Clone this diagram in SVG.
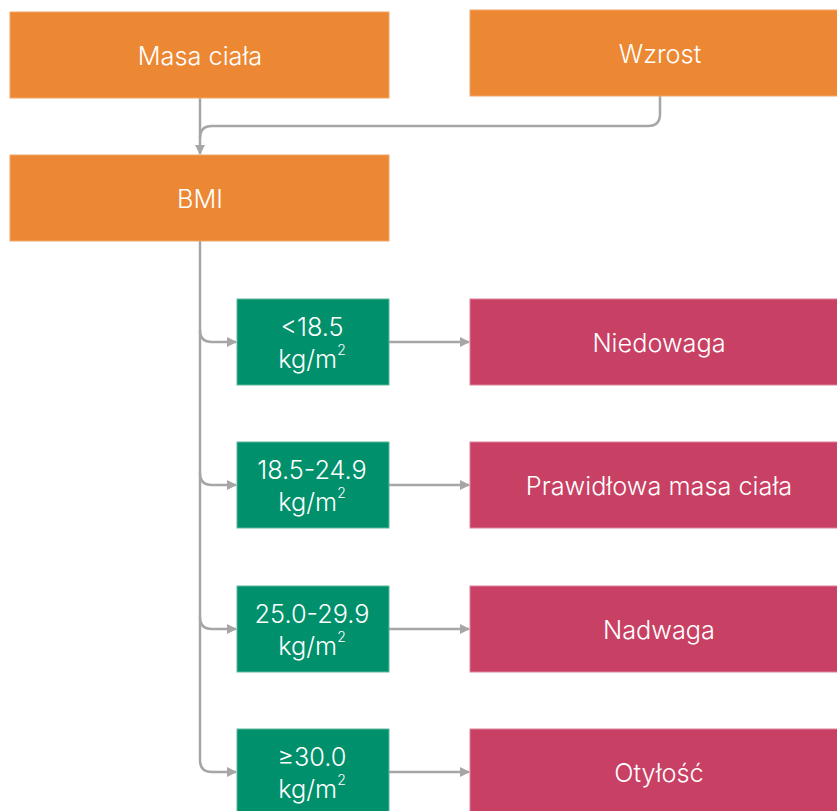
<svg xmlns="http://www.w3.org/2000/svg" width="837" height="811" viewBox="0 0 837 811">
<style>
.o{fill:#EC8733;stroke:#F2A66A;stroke-width:1}
.g{fill:#00906B;stroke:#5FB89C;stroke-width:1}
.p{fill:#C84064;stroke:#DD8299;stroke-width:1}
text{font-family:Inter,"Noto Sans","Liberation Sans",sans-serif;fill:#FFFFFF;font-size:25.3px;font-weight:300;text-anchor:middle;dominant-baseline:central}
.e{fill:none;stroke:#A6A6A6;stroke-width:2.5}
</style>
<defs>
<marker id="ah" viewBox="0 0 10 10" refX="9" refY="5" markerWidth="4" markerHeight="4" orient="auto" markerUnits="strokeWidth">
<path d="M0,0 L10,5 L0,10 z" fill="#A6A6A6"/>
</marker>
</defs>
<rect width="837" height="811" fill="#FFFFFF"/>
<g id="edges">
<path class="e" d="M200,98 L200,154" marker-end="url(#ah)"/>
<path class="e" d="M660,96 L660,114 Q660,126 648,126 L212,126 Q200,126 200,138"/>
<path class="e" d="M200,241 L200,760 Q200,772 212,772 L236,772" marker-end="url(#ah)"/>
<path class="e" d="M200,330 Q200,342 212,342 L236,342" marker-end="url(#ah)"/>
<path class="e" d="M200,473 Q200,485 212,485 L236,485" marker-end="url(#ah)"/>
<path class="e" d="M200,617 Q200,629 212,629 L236,629" marker-end="url(#ah)"/>
<path class="e" d="M389,342 L469,342" marker-end="url(#ah)"/>
<path class="e" d="M389,485 L469,485" marker-end="url(#ah)"/>
<path class="e" d="M389,629 L469,629" marker-end="url(#ah)"/>
<path class="e" d="M389,772 L469,772" marker-end="url(#ah)"/>
</g>
<g id="masa"><rect class="o" x="10" y="12" width="379" height="86"/><text x="200" y="55">Masa ciała</text></g>
<g id="wzrost"><rect class="o" x="470" y="10" width="380" height="86"/><text x="660" y="53">Wzrost</text></g>
<g id="bmi"><rect class="o" x="10" y="155" width="379" height="86"/><text x="200" y="198">BMI</text></g>
<g id="r1"><rect class="g" x="237" y="299" width="152" height="86"/><text x="312" y="326">&lt;18.5</text><text x="312" y="358">kg/m<tspan font-size="14" dy="-9">2</tspan></text></g>
<g id="r2"><rect class="g" x="237" y="442" width="152" height="86"/><text x="312" y="469">18.5-24.9</text><text x="312" y="501">kg/m<tspan font-size="14" dy="-9">2</tspan></text></g>
<g id="r3"><rect class="g" x="237" y="586" width="152" height="86"/><text x="312" y="613">25.0-29.9</text><text x="312" y="645">kg/m<tspan font-size="14" dy="-9">2</tspan></text></g>
<g id="r4"><rect class="g" x="237" y="729" width="152" height="86"/><text x="312" y="756">≥30.0</text><text x="312" y="788">kg/m<tspan font-size="14" dy="-9">2</tspan></text></g>
<g id="c1"><rect class="p" x="470" y="299" width="380" height="86"/><text x="659" y="342">Niedowaga</text></g>
<g id="c2"><rect class="p" x="470" y="442" width="380" height="86"/><text x="659" y="485">Prawidłowa masa ciała</text></g>
<g id="c3"><rect class="p" x="470" y="586" width="380" height="86"/><text x="659" y="629">Nadwaga</text></g>
<g id="c4"><rect class="p" x="470" y="729" width="380" height="86"/><text x="659" y="772">Otyłość</text></g>
</svg>
